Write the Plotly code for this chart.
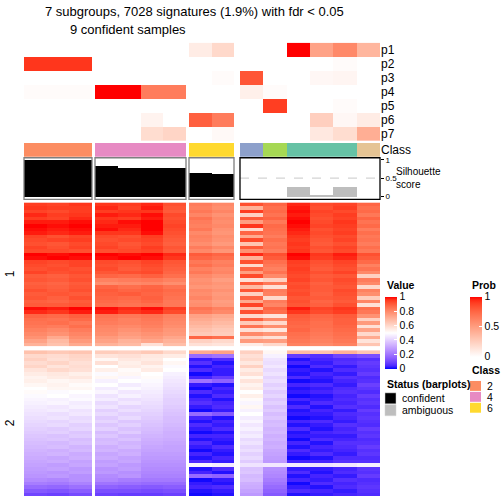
import plotly.graph_objects as go

# ---------------- data ----------------
group_sizes = [3, 4, 2, 6]
class_labels = [2, 2, 2, 4, 4, 4, 4, 6, 6, 3, 5, 1, 1, 1, 7]
class_colors = {1: "#66C2A5", 2: "#FC8D62", 3: "#8DA0CB", 4: "#E78AC3",
                5: "#A6D854", 6: "#FFD92F", 7: "#E5C494"}
legend_classes = [2, 4, 6]
silhouette = [0.99, 0.99, 0.99, 0.84, 0.78, 0.78, 0.78, 0.65, 0.62,
              0.0, 0.0, 0.27, 0.02, 0.27, 0.0]
status = ["confident"] * 9 + ["ambiguous"] * 6
status_colors = {"confident": "#000000", "ambiguous": "#BEBEBE"}

prob_labels = ["p1", "p2", "p3", "p4", "p5", "p6", "p7"]
p1 = [0, 0, 0, 0, 0, 0, 0, 10, 20, 0, 0, 100, 48, 60, 38]
p2 = [92, 92, 92, 0, 0, 0, 0, 0, 0, 0, 0, 0, 0, 2, 0]
p3 = [0, 0, 0, 0, 0, 0, 0, 0, 2, 82, 0, 0, 4, 5, 0]
p4 = [2, 2, 2, 100, 100, 66, 66, 0, 0, 8, 2, 0, 0, 0, 0]
p5 = [0, 0, 0, 0, 0, 0, 0, 0, 0, 0, 90, 0, 0, 2, 0]
p6 = [0, 0, 0, 0, 0, 6, 0, 78, 66, 0, 0, 0, 25, 4, 10]
p7 = [0, 0, 0, 0, 0, 18, 22, 0, 3, 0, 0, 0, 12, 18, 42]
prob_rows = [p1, p2, p3, p4, p5, p6, p7]

split_labels = ["1", "2"]
# signature values (percent), columns in sample order
split1 = [
    [95, 94, 96, 96, 95, 97, 92, 83, 80, 92, 88, 97, 93, 94, 88],
    [96, 95, 95, 97, 94, 98, 91, 82, 79, 70, 86, 98, 92, 95, 86],
    [94, 93, 95, 95, 96, 96, 90, 84, 81, 95, 87, 99, 94, 93, 87],
    [97, 95, 96, 98, 97, 99, 93, 81, 78, 62, 85, 98, 93, 95, 84],
    [95, 94, 97, 96, 95, 98, 92, 85, 80, 90, 88, 99, 92, 94, 88],
    [98, 98, 99, 97, 99, 100, 93, 83, 79, 75, 84, 100, 93, 96, 85],
    [100, 99, 100, 98, 98, 100, 94, 82, 80, 96, 87, 99, 94, 95, 87],
    [99, 98, 99, 99, 97, 100, 93, 84, 78, 60, 86, 98, 92, 94, 83],
    [98, 97, 98, 96, 96, 99, 92, 80, 77, 88, 85, 97, 93, 95, 86],
    [94, 92, 94, 93, 92, 95, 91, 82, 79, 72, 83, 96, 92, 93, 84],
    [93, 94, 95, 92, 93, 94, 90, 81, 78, 93, 86, 95, 91, 94, 85],
    [92, 91, 93, 93, 91, 93, 89, 79, 76, 65, 84, 96, 90, 92, 83],
    [94, 92, 94, 94, 92, 95, 91, 83, 80, 90, 85, 95, 92, 94, 86],
    [93, 93, 92, 92, 93, 94, 90, 80, 77, 78, 83, 96, 91, 93, 84],
    [100, 99, 100, 100, 99, 100, 97, 90, 88, 97, 92, 100, 96, 98, 92],
    [99, 100, 99, 99, 100, 99, 96, 88, 86, 70, 90, 99, 95, 97, 90],
    [94, 93, 94, 93, 92, 94, 91, 84, 82, 92, 86, 95, 92, 94, 87],
    [93, 92, 94, 92, 91, 93, 90, 86, 83, 60, 84, 94, 91, 93, 82],
    [92, 93, 92, 93, 90, 92, 89, 82, 80, 88, 82, 95, 90, 92, 85],
    [94, 92, 93, 91, 92, 93, 88, 84, 81, 75, 85, 94, 92, 94, 80],
    [90, 89, 91, 88, 87, 89, 86, 80, 78, 93, 80, 93, 90, 91, 62],
    [91, 90, 92, 82, 83, 84, 82, 78, 75, 58, 62, 94, 91, 93, 83],
    [89, 88, 90, 79, 80, 81, 79, 79, 77, 90, 84, 92, 89, 92, 80],
    [90, 89, 91, 88, 86, 88, 85, 77, 76, 68, 58, 93, 90, 91, 60],
    [92, 90, 92, 90, 88, 89, 87, 80, 78, 91, 83, 92, 90, 93, 82],
    [90, 91, 90, 89, 90, 88, 86, 79, 76, 62, 82, 93, 89, 92, 79],
    [91, 89, 92, 88, 87, 89, 85, 81, 77, 88, 60, 91, 90, 91, 63],
    [89, 88, 90, 87, 86, 88, 84, 78, 75, 72, 83, 92, 88, 90, 81],
    [90, 90, 91, 86, 85, 86, 84, 79, 76, 94, 81, 91, 89, 92, 58],
    [99, 98, 100, 99, 97, 99, 95, 85, 82, 66, 88, 98, 94, 96, 86],
    [97, 96, 98, 98, 96, 97, 93, 83, 80, 92, 86, 96, 93, 95, 84],
    [88, 87, 89, 85, 84, 85, 82, 74, 72, 60, 57, 90, 88, 90, 78],
    [86, 85, 87, 84, 82, 84, 81, 72, 70, 89, 80, 89, 87, 89, 62],
    [85, 86, 84, 83, 82, 83, 80, 70, 68, 64, 60, 88, 86, 89, 76],
    [84, 83, 86, 81, 80, 82, 79, 68, 66, 85, 79, 87, 86, 88, 58],
    [82, 80, 83, 80, 78, 80, 77, 66, 64, 58, 56, 88, 85, 87, 74],
    [80, 78, 81, 79, 76, 78, 76, 64, 63, 80, 77, 86, 84, 86, 60],
    [78, 72, 79, 76, 74, 76, 73, 88, 86, 62, 58, 85, 83, 85, 72],
    [74, 68, 76, 74, 70, 73, 70, 62, 60, 76, 75, 84, 82, 84, 57],
    [70, 66, 72, 70, 68, 58, 67, 58, 57, 55, 60, 82, 80, 82, 65],
]
split2 = [
    [66, 64, 65, 63, 62, 64, 60, 72, 74, 62, 52, 68, 66, 70, 65],
    [60, 59, 61, 57, 58, 56, 55, 18, 20, 58, 47, 8, 6, 10, 12],
    [62, 58, 60, 52, 56, 55, 50, 3, 5, 60, 44, 2, 4, 5, 6],
    [59, 61, 58, 58, 54, 57, 52, 6, 2, 56, 43, 4, 3, 6, 8],
    [61, 57, 59, 50, 55, 53, 49, 2, 4, 62, 45, 1, 5, 3, 7],
    [57, 60, 58, 54, 51, 55, 50, 5, 3, 55, 42, 3, 2, 5, 6],
    [55, 56, 54, 49, 52, 50, 47, 1, 3, 58, 44, 2, 4, 3, 8],
    [53, 55, 56, 52, 48, 51, 46, 4, 8, 52, 41, 5, 3, 6, 5],
    [54, 52, 53, 47, 50, 49, 45, 20, 16, 57, 43, 1, 2, 4, 6],
    [52, 53, 51, 50, 46, 48, 44, 3, 2, 53, 40, 4, 5, 3, 9],
    [50, 52, 52, 46, 49, 47, 43, 1, 4, 55, 42, 2, 3, 5, 7],
    [51, 49, 50, 48, 45, 46, 42, 5, 3, 50, 39, 3, 4, 6, 5],
    [49, 50, 48, 44, 47, 45, 41, 2, 5, 54, 41, 1, 2, 4, 8],
    [48, 47, 49, 46, 43, 44, 40, 4, 2, 51, 38, 4, 3, 5, 6],
    [47, 48, 46, 42, 45, 43, 40, 6, 4, 48, 40, 2, 5, 4, 7],
    [46, 45, 47, 44, 41, 42, 39, 3, 5, 52, 37, 5, 2, 6, 5],
    [45, 46, 44, 40, 43, 41, 38, 1, 3, 47, 39, 2, 4, 3, 8],
    [44, 43, 45, 42, 40, 40, 37, 18, 14, 50, 36, 3, 3, 5, 6],
    [43, 44, 42, 39, 42, 39, 36, 4, 2, 46, 38, 1, 2, 4, 7],
    [42, 41, 43, 41, 38, 38, 36, 2, 4, 48, 35, 4, 5, 3, 6],
    [41, 42, 40, 38, 40, 37, 35, 5, 3, 45, 36, 2, 3, 6, 5],
    [40, 39, 41, 40, 37, 36, 34, 3, 5, 47, 34, 5, 2, 4, 8],
    [39, 40, 38, 36, 39, 35, 33, 1, 2, 44, 35, 2, 4, 5, 6],
    [38, 37, 39, 38, 35, 34, 33, 4, 4, 46, 33, 3, 3, 3, 7],
    [37, 38, 36, 35, 37, 33, 32, 2, 3, 42, 34, 1, 5, 4, 5],
    [36, 35, 37, 36, 34, 32, 31, 5, 2, 44, 32, 4, 2, 6, 6],
    [35, 36, 34, 33, 35, 31, 30, 3, 5, 41, 33, 2, 4, 5, 8],
    [34, 33, 35, 34, 32, 30, 30, 1, 3, 43, 31, 5, 3, 4, 6],
    [33, 34, 32, 31, 33, 29, 29, 4, 2, 40, 30, 3, 5, 3, 7],
    [32, 31, 33, 32, 30, 28, 28, 2, 4, 42, 29, 1, 2, 5, 5],
    [31, 32, 30, 29, 31, 27, 27, 5, 3, 39, 28, 4, 4, 6, 6],
    [30, 29, 31, 30, 28, 26, 26, 48, 46, 44, 45, 46, 44, 45, 47],
    [29, 30, 28, 27, 29, 25, 25, 2, 5, 37, 26, 3, 3, 4, 7],
    [28, 27, 29, 28, 26, 24, 24, 4, 2, 38, 25, 5, 2, 5, 6],
    [27, 28, 26, 25, 27, 23, 23, 18, 16, 35, 24, 2, 4, 3, 8],
    [25, 24, 26, 24, 22, 21, 21, 1, 3, 36, 22, 4, 3, 6, 5],
    [22, 21, 23, 20, 19, 18, 18, 3, 2, 33, 20, 1, 5, 4, 6],
    [18, 17, 19, 16, 15, 14, 15, 4, 5, 32, 18, 3, 2, 5, 7],
    [14, 13, 15, 12, 12, 11, 12, 2, 3, 30, 16, 5, 4, 3, 6],
    [10, 9, 11, 9, 8, 8, 9, 1, 2, 28, 14, 2, 3, 4, 5],
]
value_ticks = [0, 0.2, 0.4, 0.6, 0.8, 1]
prob_ticks = [0, 0.5, 1]
sil_ticks = [0, 0.5, 1]
title_line1 = "7 subgroups, 7028 signatures (1.9%) with fdr < 0.05"
title_line2 = "9 confident samples"

# ---------------- colour helpers (LAB interpolation like colorRamp2) ----------------
def _lin(c):
    c = c / 255.0
    return c / 12.92 if c <= 0.04045 else ((c + 0.055) / 1.055) ** 2.4

def _gam(c):
    c = max(0.0, min(1.0, c))
    v = 12.92 * c if c <= 0.0031308 else 1.055 * c ** (1 / 2.4) - 0.055
    return int(round(255 * max(0.0, min(1.0, v))))

def rgb2lab(rgb):
    r, g, b = [_lin(v) for v in rgb]
    X = (0.4124 * r + 0.3576 * g + 0.1805 * b) / 0.95047
    Y = 0.2126 * r + 0.7152 * g + 0.0722 * b
    Z = (0.0193 * r + 0.1192 * g + 0.9505 * b) / 1.08883
    f = lambda t: t ** (1 / 3) if t > 0.008856 else 7.787 * t + 16 / 116
    fx_, fy_, fz_ = f(X), f(Y), f(Z)
    return (116 * fy_ - 16, 500 * (fx_ - fy_), 200 * (fy_ - fz_))

def lab2rgb(lab):
    L, a, b = lab
    fy_ = (L + 16) / 116
    fx_ = fy_ + a / 500
    fz_ = fy_ - b / 200
    finv = lambda t: t ** 3 if t ** 3 > 0.008856 else (t - 16 / 116) / 7.787
    X = 0.95047 * finv(fx_)
    Y = finv(fy_)
    Z = 1.08883 * finv(fz_)
    r = 3.2406 * X - 1.5372 * Y - 0.4986 * Z
    g = -0.9689 * X + 1.8758 * Y + 0.0415 * Z
    bb = 0.0557 * X - 0.2040 * Y + 1.0570 * Z
    return "rgb(%d,%d,%d)" % (_gam(r), _gam(g), _gam(bb))

def ramp(breaks, colors, steps=12):
    labs = [rgb2lab(c) for c in colors]
    lo, hi = breaks[0], breaks[-1]
    scale = []
    for i in range(len(breaks) - 1):
        for k in range(steps + 1):
            if i > 0 and k == 0:
                continue
            t = k / steps
            v = breaks[i] + t * (breaks[i + 1] - breaks[i])
            lab = tuple(labs[i][j] + t * (labs[i + 1][j] - labs[i][j]) for j in range(3))
            scale.append([(v - lo) / (hi - lo), lab2rgb(lab)])
    return scale

value_scale = ramp([0, 0.5, 1], [(0, 0, 255), (255, 255, 255), (255, 0, 0)])
prob_scale = ramp([0, 1], [(255, 255, 255), (255, 0, 0)], steps=20)

# ---------------- layout geometry (pixels) ----------------
W = H = 504
FONT = "Liberation Sans"
def fx(p):
    return p / W
def fy(p):
    return 1 - p / H

group_px = [(24, 92), (95, 186), (189, 234), (240, 380)]
prob_px = (41, 140)
class_px = (142, 156)
sil_px = (157, 199)
h1_px = (202, 347)
h2_px = (351, 498)
sil_range = [-(sil_px[1] - 196) / 37.0, 1 + (159 - sil_px[0]) / 37.0]

fig = go.Figure()
starts = [sum(group_sizes[:i]) for i in range(len(group_sizes))]
xnames = ["x", "x2", "x3", "x4"]

for gi, (st, n) in enumerate(zip(starts, group_sizes)):
    cols = list(range(st, st + n))
    xa = xnames[gi]
    xs = list(range(n))
    fig.add_trace(go.Heatmap(z=[[r[c] / 100 for c in cols] for r in prob_rows],
                             x=xs, y=list(range(len(prob_rows))), xaxis=xa, yaxis="y",
                             coloraxis="coloraxis2", hoverinfo="skip"))
    fig.add_trace(go.Bar(x=xs, y=[1] * n, width=1, xaxis=xa, yaxis="y2",
                         marker=dict(color=[class_colors[class_labels[c]] for c in cols],
                                     line=dict(width=0)), hoverinfo="skip"))
    fig.add_trace(go.Bar(x=xs, y=[silhouette[c] for c in cols], width=1, xaxis=xa, yaxis="y3",
                         marker=dict(color=[status_colors[status[c]] for c in cols],
                                     line=dict(width=0)), hoverinfo="skip"))
    fig.add_trace(go.Heatmap(z=[[r[c] / 100 for c in cols] for r in split1],
                             x=xs, y=list(range(len(split1))), xaxis=xa, yaxis="y4",
                             coloraxis="coloraxis", hoverinfo="skip"))
    fig.add_trace(go.Heatmap(z=[[r[c] / 100 for c in cols] for r in split2],
                             x=xs, y=list(range(len(split2))), xaxis=xa, yaxis="y5",
                             coloraxis="coloraxis", hoverinfo="skip"))

layout = dict(width=W, height=H, autosize=False, margin=dict(l=0, r=0, t=0, b=0),
              paper_bgcolor="white", plot_bgcolor="white", showlegend=False,
              barmode="overlay", bargap=0,
              font=dict(family=FONT, color="black"))

for gi, (a, b) in enumerate(group_px):
    key = "xaxis" if gi == 0 else "xaxis%d" % (gi + 1)
    layout[key] = dict(domain=[fx(a), fx(b)], range=[-0.5, group_sizes[gi] - 0.5],
                       visible=False, fixedrange=True)

common_y = dict(showgrid=False, zeroline=False, fixedrange=True)
layout["yaxis"] = dict(domain=[fy(prob_px[1]), fy(prob_px[0])],
                       range=[len(prob_rows) - 0.5, -0.5], anchor="x4", side="right",
                       tickvals=list(range(len(prob_rows))), ticktext=prob_labels,
                       ticks="", tickfont=dict(size=12, family=FONT), showline=False, **common_y)
layout["yaxis2"] = dict(domain=[fy(class_px[1]), fy(class_px[0])], range=[0, 1],
                        anchor="x4", side="right", tickvals=[0.5], ticktext=["Class"],
                        ticks="", tickfont=dict(size=12, family=FONT), **common_y)
layout["yaxis3"] = dict(domain=[fy(sil_px[1]), fy(sil_px[0])], range=sil_range,
                        anchor="x4", side="right", tickvals=sil_ticks,
                        ticktext=[("%g" % t) for t in sil_ticks], ticks="outside", ticklen=3,
                        tickcolor="black", tickfont=dict(size=8, family=FONT), **common_y)
layout["yaxis4"] = dict(domain=[fy(h1_px[1]), fy(h1_px[0])],
                        range=[len(split1) - 0.5, -0.5], visible=False, fixedrange=True)
layout["yaxis5"] = dict(domain=[fy(h2_px[1]), fy(h2_px[0])],
                        range=[len(split2) - 0.5, -0.5], visible=False, fixedrange=True)

layout["coloraxis"] = dict(cmin=0, cmax=1, colorscale=value_scale,
                           colorbar=dict(x=fx(385), xanchor="left", y=fy(297), yanchor="top",
                                         len=72, lenmode="pixels", thickness=12,
                                         thicknessmode="pixels", outlinewidth=0, xpad=0, ypad=0,
                                         tickvals=value_ticks, ticktext=[("%g" % t) for t in value_ticks],
                                         ticks="inside", ticklen=3, tickcolor="white",
                                         tickfont=dict(size=10.5, family=FONT)))
layout["coloraxis2"] = dict(cmin=0, cmax=1, colorscale=prob_scale,
                            colorbar=dict(x=fx(470), xanchor="left", y=fy(297), yanchor="top",
                                          len=60, lenmode="pixels", thickness=12,
                                          thicknessmode="pixels", outlinewidth=0, xpad=0, ypad=0,
                                          tickvals=prob_ticks, ticktext=[("%g" % t) for t in prob_ticks],
                                          ticks="inside", ticklen=3, tickcolor="white",
                                          tickfont=dict(size=10.5, family=FONT)))

shapes = []
annotations = []
for gi in range(len(group_sizes)):
    xd = ("x" if gi == 0 else "x%d" % (gi + 1)) + " domain"
    shapes.append(dict(type="line", xref=xd, yref="y3", x0=0, x1=1, y0=0.5, y1=0.5,
                       line=dict(color="#C8C8C8", width=1, dash="dash"), layer="below"))
    shapes.append(dict(type="rect", xref=xd, yref="y3 domain", x0=0, x1=1, y0=0, y1=1,
                       line=dict(color="#000000" if gi == 3 else "#7F7F7F", width=1.3)))

def text(t, px, py, size, xanchor="left", yanchor="middle", **kw):
    annotations.append(dict(text=t, x=fx(px), y=fy(py), xref="paper", yref="paper",
                            xanchor=xanchor, yanchor=yanchor, showarrow=False,
                            font=dict(size=size, family=FONT), **kw))

text("Silhouette<br>score", 394, 177, 10, align="left")
text(title_line1, 194, 10, 13, xanchor="center")
text(title_line2, 128, 28, 13, xanchor="center")
for k, lab in enumerate(split_labels):
    annotations.append(dict(text=lab, x=fx(10), y=0.5, xref="paper", yref="y%d domain" % (4 + k),
                            xanchor="center", yanchor="middle",
                            textangle=-90, showarrow=False, font=dict(size=12, family=FONT)))
for t, px, py in [("Value", 385, 285), ("Prob", 470, 285), ("Class", 470, 371),
                  ("Status (barplots)", 385, 385)]:
    text("<b>%s</b>" % t, px, py, 10.5)
for i, c in enumerate(legend_classes):
    top = 382 + i * 11
    shapes.append(dict(type="rect", xref="paper", yref="paper", x0=fx(470), x1=fx(481),
                       y0=fy(top + 10), y1=fy(top), fillcolor=class_colors[c], line=dict(width=0)))
    text(str(c), 485, top + 5, 10.5)
for i, s in enumerate(["confident", "ambiguous"]):
    top = 394 + i * 12
    shapes.append(dict(type="rect", xref="paper", yref="paper", x0=fx(385), x1=fx(396),
                       y0=fy(top + 11), y1=fy(top), fillcolor=status_colors[s],
                       line=dict(width=0.5, color="#D0D0D0")))
    text(s, 400, top + 5.5, 10.5)

layout["shapes"] = shapes
layout["annotations"] = annotations
fig.update_layout(**layout)
fig.write_html("out.html", config={"displayModeBar": False},
               post_script="document.body.style.margin='0';document.body.style.padding='0';")
